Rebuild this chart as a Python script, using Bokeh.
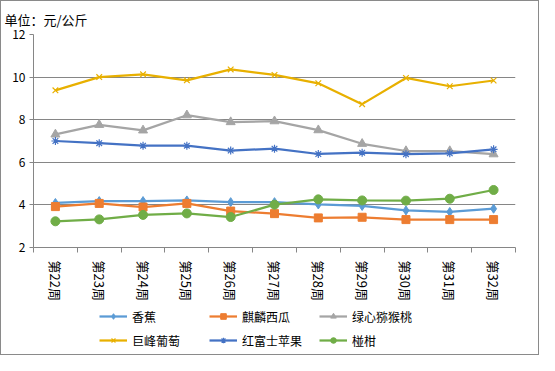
import math
from bokeh.plotting import figure
from bokeh.layouts import column
from bokeh.models import FixedTicker, Legend, LegendItem, Range1d
from bokeh.embed import file_html
from bokeh.resources import INLINE

weeks = ["第22周", "第23周", "第24周", "第25周", "第26周", "第27周",
         "第28周", "第29周", "第30周", "第31周", "第32周"]
banana = [4.09, 4.18, 4.18, 4.21, 4.13, 4.13, 4.02, 3.95, 3.74, 3.67, 3.82]
watermelon = [3.92, 4.07, 3.90, 4.07, 3.71, 3.59, 3.39, 3.42, 3.31, 3.31, 3.31]
kiwi = [7.31, 7.76, 7.50, 8.21, 7.89, 7.93, 7.51, 6.87, 6.53, 6.53, 6.38]
grape = [9.38, 10.00, 10.13, 9.85, 10.36, 10.10, 9.71, 8.73, 9.96, 9.57, 9.84]
apple = [7.00, 6.90, 6.78, 6.78, 6.55, 6.64, 6.39, 6.45, 6.38, 6.42, 6.61]
orange = [3.23, 3.32, 3.53, 3.60, 3.43, 4.01, 4.26, 4.21, 4.20, 4.29, 4.70]
y_ticks = [2, 4, 6, 8, 10, 12]

names = ["香蕉", "麒麟西瓜", "绿心猕猴桃", "巨峰葡萄", "红富士苹果", "椪柑"]
series = [banana, watermelon, kiwi, grape, apple, orange]
colors = ["#5B9BD5", "#ED7D31", "#A5A5A5", "#E8B000", "#4472C4", "#70AD47"]
markers = ["diamond", "square", "triangle", "x", "asterisk", "circle"]
sizes = [9, 8, 9, 8, 8, 9]

xs = list(range(1, len(weeks) + 1))
FONT = "Noto Sans CJK SC"


def draw_series(fig, x, ys, c, m, s):
    lr = fig.line(x, ys, line_color=c, line_width=2.25)
    if m in ("x", "asterisk"):
        sr = fig.scatter(x, ys, marker=m, size=s, line_color=c, line_width=1.2)
    else:
        sr = fig.scatter(x, ys, marker=m, size=s, fill_color=c, line_color=c)
    return lr, sr


p = figure(width=537, height=302, output_backend="svg", toolbar_location=None,
           x_range=Range1d(0.5, len(weeks) + 0.5), y_range=Range1d(2, 12),
           min_border_left=32, min_border_right=23, min_border_top=33,
           min_border_bottom=53, title="单位：元/公斤")
p.outline_line_color = None
p.background_fill_color = "white"
p.border_fill_color = "white"

p.title.text_font = FONT
p.title.text_font_size = "13px"
p.title.text_font_style = "normal"
p.title.text_color = "#000000"
p.title.align = "left"
p.title.offset = -29
p.title.standoff = 11

# y axis
p.yaxis.ticker = FixedTicker(ticks=y_ticks)
p.yaxis.axis_line_color = "#868686"
p.yaxis.major_tick_line_color = "#868686"
p.yaxis.major_tick_out = 4
p.yaxis.major_tick_in = 0
p.yaxis.minor_tick_line_color = None
p.yaxis.major_label_text_font = FONT
p.yaxis.major_label_text_font_size = "12px"
p.yaxis.major_label_text_color = "#000000"
p.yaxis.major_label_standoff = 4

# x axis
p.xaxis.ticker = FixedTicker(ticks=xs, minor_ticks=[x - 0.5 for x in xs] + [xs[-1] + 0.5])
p.xaxis.major_label_overrides = {x: w for x, w in zip(xs, weeks)}
p.xaxis.axis_line_color = "#868686"
p.xaxis.major_tick_line_color = None
p.xaxis.minor_tick_line_color = "#868686"
p.xaxis.minor_tick_out = 5
p.xaxis.minor_tick_in = 0
p.xaxis.major_label_orientation = -math.pi / 2
p.xaxis.major_label_text_font = FONT
p.xaxis.major_label_text_font_size = "13px"
p.xaxis.major_label_text_color = "#000000"
p.xaxis.major_label_standoff = 7

p.xgrid.grid_line_color = None
p.ygrid.ticker = FixedTicker(ticks=y_ticks)
p.ygrid.grid_line_color = "#868686"
p.ygrid.grid_line_width = 1

for ys, c, m, s in zip(series, colors, markers, sizes):
    draw_series(p, xs, ys, c, m, s)

# legend panel below the chart (series drawn off-range so only legend shows)
lg = figure(width=537, height=51, output_backend="svg", toolbar_location=None,
            x_axis_type=None, y_axis_type=None,
            x_range=Range1d(100, 101), y_range=Range1d(100, 101),
            min_border=0, min_border_left=0, min_border_right=0,
            min_border_top=0, min_border_bottom=0)
lg.outline_line_color = None
lg.grid.visible = False
lg.background_fill_color = "white"
lg.border_fill_color = "white"

items = []
for name, ys, c, m, s in zip(names, series, colors, markers, sizes):
    lr, sr = draw_series(lg, xs, ys, c, m, s)
    items.append(LegendItem(label=name, renderers=[lr, sr]))

legend = Legend(items=items, orientation="horizontal", ncols=3,
                location=(66, 2), glyph_width=28, glyph_height=14,
                label_standoff=5, label_width=77, spacing=0,
                label_text_font=FONT, label_text_font_size="12px",
                label_text_color="#000000", background_fill_alpha=0,
                border_line_color=None, padding=0, margin=0,
                label_height=24)
lg.add_layout(legend, "center")

layout = column(p, lg, spacing=0,
                styles={"border": "1px solid #8a8a8a", "background": "white"})

open("out.html", "w").write(file_html(layout, INLINE))
